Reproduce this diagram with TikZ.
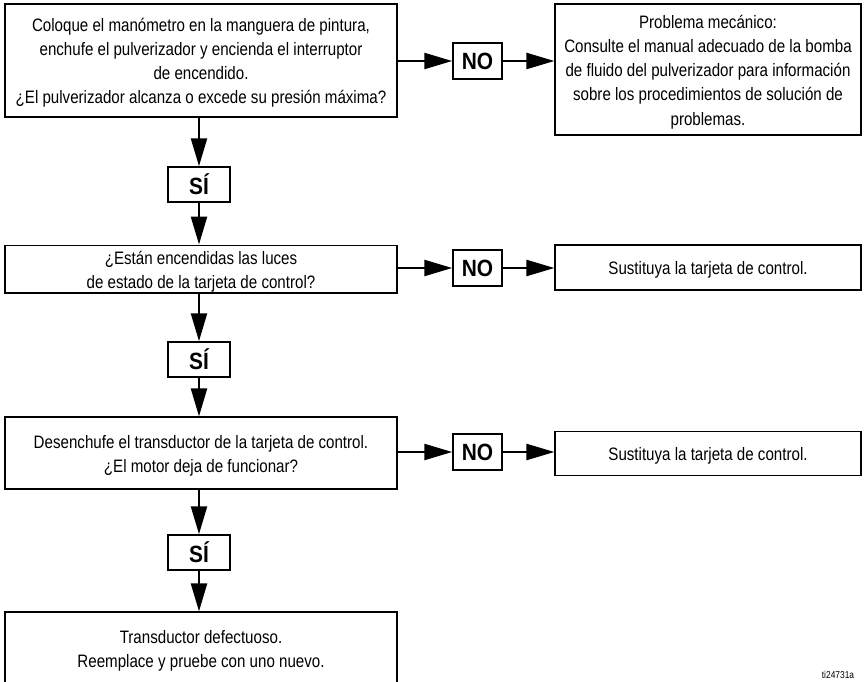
\documentclass[tikz,border=0pt]{standalone}
\usepackage{fontspec}
\setmainfont[FakeStretch=0.84]{Liberation Sans}
\newfontfamily\ansfont[FakeStretch=0.89]{Liberation Sans}
\usetikzlibrary{arrows.meta}
\newcommand{\firstln}{\rule{0pt}{19pt}}
\newcommand{\lastln}{\rule[-4.6pt]{0pt}{0pt}}
\tikzset{
  box/.style={draw, line width=1.2pt, align=center, inner sep=0pt, font=\fontsize{18}{24.2}\selectfont},
  ans/.style={draw, line width=1.5pt, inner sep=0pt, minimum width=49pt, minimum height=36pt, font=\ansfont\fontsize{23.5}{24}\selectfont\bfseries},
  yes/.style={ans, minimum width=62pt, minimum height=35pt},
  conn/.style={line width=2.3pt, -{Triangle[length=28pt,width=16pt]}},
}
\begin{document}
\begin{tikzpicture}[x=1pt,y=-1pt]
\useasboundingbox (0,0) rectangle (864,682);
\clip (0,0) rectangle (864,682);
% row 1
\node[box, minimum width=392pt, minimum height=113pt] (b1) at (201,60.5)
  {\firstln Coloque el manómetro en la manguera de pintura,\\enchufe el pulverizador y encienda el interruptor\\de encendido.\\¿El pulverizador alcanza o excede su presión máxima?\lastln};
\node[ans] (no1) at (477.5,61) {NO};
\node[box, minimum width=306pt, minimum height=131pt] (b2) at (708,69.5)
  {\firstln Problema mecánico:\\Consulte el manual adecuado de la bomba\\de fluido del pulverizador para información\\sobre los procedimientos de solución de\\problemas.\lastln};
\node[yes] (si1) at (199,184.5) {SÍ};

% row 2
\node[box, minimum width=392pt, minimum height=47pt] (b3) at (201,269)
  {\firstln ¿Están encendidas las luces\\de estado de la tarjeta de control?\lastln};
\node[ans] (no2) at (477.5,268) {NO};
\node[box, minimum width=306pt, minimum height=45pt] (b4) at (708,267.5)
  {\firstln Sustituya la tarjeta de control.\lastln};
\node[yes] (si2) at (199,359.5) {SÍ};

% row 3
\node[box, minimum width=392pt, minimum height=72pt] (b5) at (201,453)
  {\firstln Desenchufe el transductor de la tarjeta de control.\\¿El motor deja de funcionar?\lastln};
\node[ans] (no3) at (477.5,452) {NO};
\node[box, minimum width=306pt, minimum height=44pt] (b6) at (708,453.5)
  {\firstln Sustituya la tarjeta de control.\lastln};
\node[yes] (si3) at (199,552.5) {SÍ};

% row 4
\node[box, minimum width=392pt, minimum height=72pt] (b7) at (201,648)
  {\firstln Transductor defectuoso.\\Reemplace y pruebe con uno nuevo.\lastln};

\node[font=\fontsize{10}{10}\selectfont] (tag) at (838,675) {ti24731a};

% connectors
\draw[conn] (b1.east |- no1) -- (no1.west);
\draw[conn] (no1.east) -- (b2.west |- no1);
\draw[conn] (b1.south -| si1) -- (si1.north);
\draw[conn] (si1.south) -- (b3.north -| si1);

\draw[conn] (b3.east |- no2) -- (no2.west);
\draw[conn] (no2.east) -- (b4.west |- no2);
\draw[conn] (b3.south -| si2) -- (si2.north);
\draw[conn] (si2.south) -- (b5.north -| si2);

\draw[conn] (b5.east |- no3) -- (no3.west);
\draw[conn] (no3.east) -- (b6.west |- no3);
\draw[conn] (b5.south -| si3) -- (si3.north);
\draw[conn] (si3.south) -- (b7.north -| si3);
\end{tikzpicture}
\end{document}
